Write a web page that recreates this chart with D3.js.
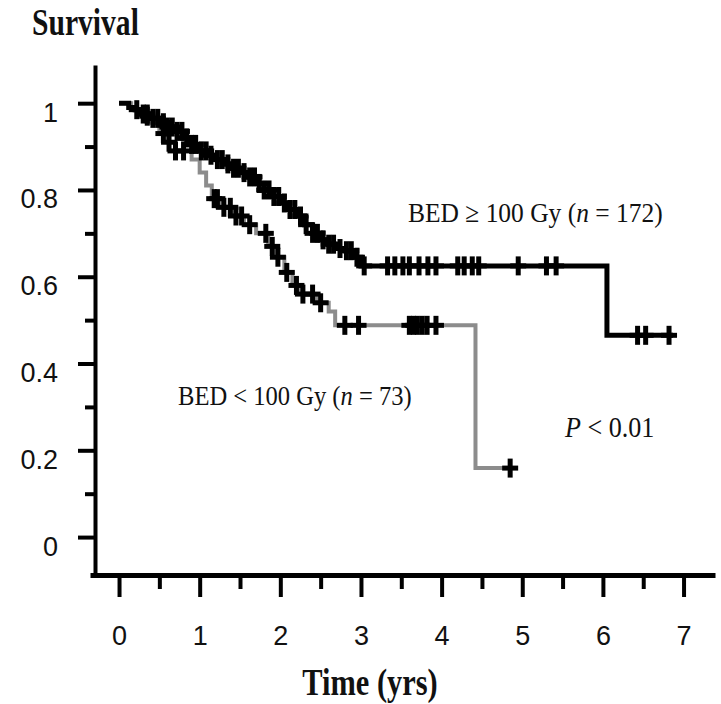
<!DOCTYPE html>
<html>
<head>
  <meta charset="utf-8">
  <style>
    html, body {
      margin: 0;
      padding: 0;
      background: #fff;
      width: 721px;
      height: 704px;
      overflow: hidden;
    }
    svg { display: block; }
    .axis path, .axis line { stroke: #000; }
    .axis text { font-family: "Liberation Sans", Arial, sans-serif; fill: #111; }
    .lbl { font-family: "Liberation Serif", "Times New Roman", serif; fill: #111; }
  </style>
</head>
<body>
  <svg width="721" height="704"></svg>

  <script src="https://d3js.org/d3.v7.min.js"></script>
  <script>
    // BED >= 100 Gy (n = 172): step times (yrs) and survival after each step
    const highTimes = [0, 0.12, 0.2, 0.3, 0.4, 0.5, 0.6, 0.7, 0.8, 0.9, 1.0, 1.1, 1.2, 1.3, 1.4, 1.5,
                       1.6, 1.7, 1.8, 1.9, 2.0, 2.1, 2.2, 2.3, 2.4, 2.5, 2.6, 2.7, 2.8, 2.9, 3.0, 6.05];
    const highSurv  = [1, 0.99, 0.985, 0.975, 0.965, 0.955, 0.945, 0.935, 0.92, 0.905, 0.89, 0.88, 0.87, 0.86, 0.85, 0.84,
                       0.83, 0.815, 0.80, 0.785, 0.77, 0.755, 0.74, 0.72, 0.70, 0.685, 0.675, 0.665, 0.66, 0.645, 0.625, 0.465];
    const highEnd = 6.87;
    const highCensor = [0.22, 0.3, 0.35, 0.42, 0.48, 0.55, 0.6, 0.66, 0.72, 0.78, 0.84, 0.9, 0.95, 1.02, 1.08,
                        1.14, 1.22, 1.28, 1.35, 1.42, 1.48, 1.55, 1.62, 1.68, 1.74, 1.8, 1.86, 1.92, 1.98, 2.05,
                        2.12, 2.18, 2.25, 2.32, 2.4, 2.46, 2.53, 2.6, 2.66, 2.74, 2.82, 2.88, 2.95, 3.04, 3.33,
                        3.42, 3.52, 3.6, 3.72, 3.83, 3.93, 4.2, 4.28, 4.38, 4.46, 4.95, 5.3, 5.42, 6.43, 6.53, 6.82];

    // BED < 100 Gy (n = 73)
    const lowTimes = [0, 0.15, 0.3, 0.4, 0.5, 0.6, 0.7, 0.9, 1.0, 1.08, 1.15, 1.25, 1.4, 1.55, 1.7, 1.85,
                      1.95, 2.05, 2.15, 2.25, 2.45, 2.6, 2.68, 4.42];
    const lowSurv  = [1, 0.985, 0.97, 0.955, 0.93, 0.91, 0.89, 0.87, 0.84, 0.81, 0.78, 0.76, 0.74, 0.72, 0.70, 0.67,
                      0.645, 0.61, 0.58, 0.56, 0.54, 0.52, 0.488, 0.159];
    const lowEnd = 4.85;
    const lowCensor = [0.35, 0.55, 0.62, 0.7, 0.8, 1.18, 1.22, 1.3, 1.38, 1.45, 1.52, 1.62, 1.82, 1.9, 1.97,
                       2.08, 2.2, 2.28, 2.4, 2.5, 2.8, 2.97, 3.6, 3.65, 3.7, 3.76, 3.82, 3.93, 4.85];

    const xMajor = [0, 1, 2, 3, 4, 5, 6, 7];
    const xMinor = [0.5, 1.5, 2.5, 3.5, 4.5, 5.5, 6.5];
    const yMajor = [0, 0.2, 0.4, 0.6, 0.8, 1];
    const yMinor = [0.1, 0.3, 0.5, 0.7, 0.9];

    const svg = d3.select("svg");

    const x = d3.scaleLinear().domain([-0.36, 7.39]).range([90, 715]);
    const y = d3.scaleLinear().domain([-0.092, 1.088]).range([577, 65]);

    // axes
    const gx = svg.append("g").attr("class", "axis").attr("transform", "translate(0,575)");
    gx.call(d3.axisBottom(x).tickValues(xMajor).tickSize(22).tickSizeOuter(0).tickFormat(d3.format("d")));
    gx.select(".domain").attr("stroke-width", 5);
    gx.selectAll(".tick line").attr("stroke-width", 4);
    gx.selectAll(".tick text").attr("y", 70).attr("dy", 0).attr("font-size", 27);
    const gxm = svg.append("g").attr("class", "axis").attr("transform", "translate(0,575)");
    gxm.call(d3.axisBottom(x).tickValues(xMinor).tickSize(14).tickFormat(""));
    gxm.select(".domain").remove();
    gxm.selectAll(".tick line").attr("stroke-width", 4);

    const gy = svg.append("g").attr("class", "axis").attr("transform", "translate(95,0)");
    gy.call(d3.axisLeft(y).tickValues(yMajor).tickSize(17).tickSizeOuter(0).tickFormat(d => d === 0 || d === 1 ? d : d3.format(".1f")(d)));
    gy.select(".domain").attr("stroke-width", 4);
    gy.selectAll(".tick line").attr("stroke-width", 4);
    gy.selectAll(".tick text").attr("x", -37).attr("dy", 18).attr("font-size", 27);
    const gym = svg.append("g").attr("class", "axis").attr("transform", "translate(95,0)");
    gym.call(d3.axisLeft(y).tickValues(yMinor).tickSize(10).tickFormat(""));
    gym.select(".domain").remove();
    gym.selectAll(".tick line").attr("stroke-width", 4);

    // survival curves
    function stepPoints(times, surv, end) {
      const pts = times.map((t, i) => [t, surv[i]]);
      pts.push([end, surv[surv.length - 1]]);
      return pts;
    }
    function survAt(times, surv, t) {
      let s = surv[0];
      times.forEach((tt, i) => { if (tt <= t) s = surv[i]; });
      return s;
    }
    const line = d3.line().x(d => x(d[0])).y(d => y(d[1])).curve(d3.curveStepAfter);

    svg.append("path")
      .attr("d", line(stepPoints(lowTimes, lowSurv, lowEnd)))
      .attr("fill", "none").attr("stroke", "#8c8c8c").attr("stroke-width", 4);
    svg.append("path")
      .attr("d", line(stepPoints(highTimes, highSurv, highEnd)))
      .attr("fill", "none").attr("stroke", "#000").attr("stroke-width", 5);

    function crosses(times, surv, cens) {
      const g = svg.append("g").attr("stroke", "#000").attr("stroke-width", 5);
      cens.forEach(t => {
        const cx = x(t), cy = y(survAt(times, surv, t));
        g.append("line").attr("x1", cx).attr("x2", cx).attr("y1", cy - 9.5).attr("y2", cy + 9.5);
        g.append("line").attr("x1", cx - 8).attr("x2", cx + 8).attr("y1", cy).attr("y2", cy);
      });
    }
    crosses(lowTimes, lowSurv, lowCensor);
    crosses(highTimes, highSurv, highCensor);

    // texts
    svg.append("text").attr("class", "lbl")
      .attr("transform", "translate(32,35) scale(0.8,1)")
      .attr("font-size", 37).attr("font-weight", "bold").text("Survival");

    svg.append("text").attr("class", "lbl")
      .attr("transform", "translate(370,695) scale(0.8,1)")
      .attr("text-anchor", "middle")
      .attr("font-size", 38).attr("font-weight", "bold").text("Time (yrs)");

    const t1 = svg.append("text").attr("class", "lbl")
      .attr("transform", "translate(408,222) scale(0.91,1)").attr("font-size", 28);
    t1.append("tspan").text("BED ≥ 100 Gy (");
    t1.append("tspan").attr("font-style", "italic").text("n");
    t1.append("tspan").text(" = 172)");

    const t2 = svg.append("text").attr("class", "lbl")
      .attr("transform", "translate(178,405) scale(0.91,1)").attr("font-size", 27);
    t2.append("tspan").text("BED < 100 Gy (");
    t2.append("tspan").attr("font-style", "italic").text("n");
    t2.append("tspan").text(" = 73)");

    const t3 = svg.append("text").attr("class", "lbl")
      .attr("transform", "translate(565,437) scale(0.87,1)").attr("font-size", 30);
    t3.append("tspan").attr("font-style", "italic").text("P");
    t3.append("tspan").text(" < 0.01");
  </script>
</body>
</html>
